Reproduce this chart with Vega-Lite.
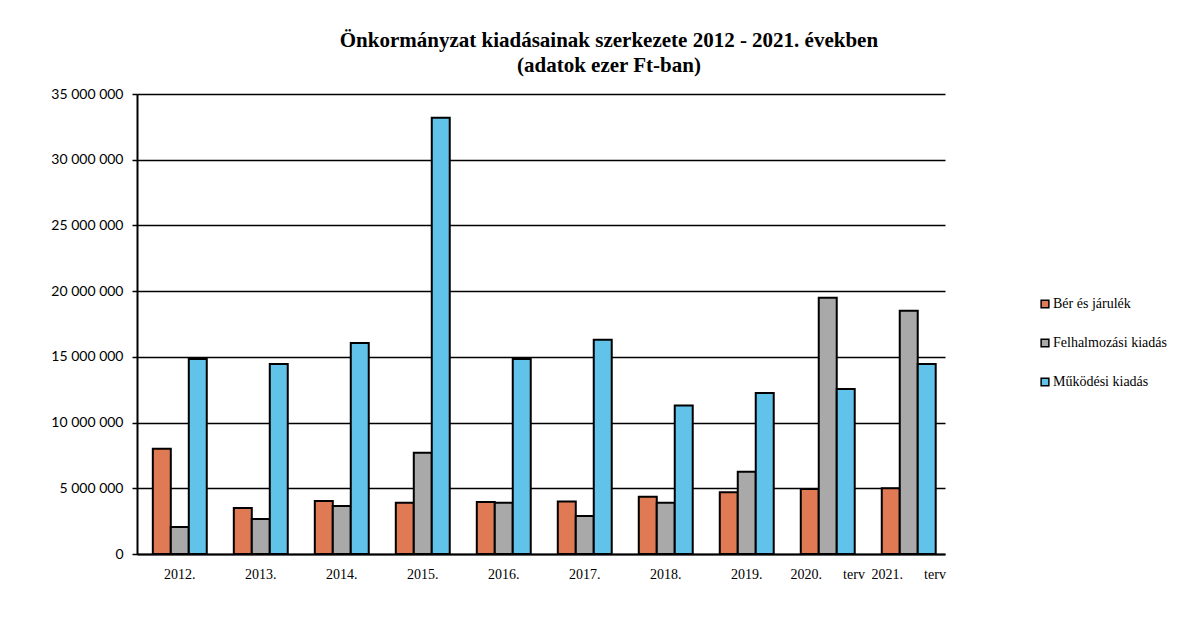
{
  "$schema": "https://vega.github.io/schema/vega-lite/v6.json",
  "width": 808,
  "height": 460,
  "autosize": {"type": "pad"},
  "padding": {"left": 50, "top": 30, "right": 10, "bottom": 10},
  "background": "white",
  "title": {
    "text": ["Önkormányzat kiadásainak szerkezete 2012 - 2021. években", "(adatok ezer Ft-ban)"],
    "font": "Liberation Serif",
    "fontSize": 21,
    "fontWeight": "bold",
    "color": "black",
    "anchor": "middle",
    "frame": "bounds",
    "lineHeight": 25,
    "offset": 11
  },
  "data": {
    "values": [
      {"ev": "2012.", "tipus": "Bér és járulék", "ertek": 8000000},
      {"ev": "2012.", "tipus": "Felhalmozási kiadás", "ertek": 2050000},
      {"ev": "2012.", "tipus": "Működési kiadás", "ertek": 14840000},
      {"ev": "2013.", "tipus": "Bér és járulék", "ertek": 3500000},
      {"ev": "2013.", "tipus": "Felhalmozási kiadás", "ertek": 2660000},
      {"ev": "2013.", "tipus": "Működési kiadás", "ertek": 14460000},
      {"ev": "2014.", "tipus": "Bér és járulék", "ertek": 4030000},
      {"ev": "2014.", "tipus": "Felhalmozási kiadás", "ertek": 3650000},
      {"ev": "2014.", "tipus": "Működési kiadás", "ertek": 16060000},
      {"ev": "2015.", "tipus": "Bér és járulék", "ertek": 3900000},
      {"ev": "2015.", "tipus": "Felhalmozási kiadás", "ertek": 7700000},
      {"ev": "2015.", "tipus": "Működési kiadás", "ertek": 33200000},
      {"ev": "2016.", "tipus": "Bér és járulék", "ertek": 3960000},
      {"ev": "2016.", "tipus": "Felhalmozási kiadás", "ertek": 3900000},
      {"ev": "2016.", "tipus": "Működési kiadás", "ertek": 14840000},
      {"ev": "2017.", "tipus": "Bér és járulék", "ertek": 4000000},
      {"ev": "2017.", "tipus": "Felhalmozási kiadás", "ertek": 2900000},
      {"ev": "2017.", "tipus": "Működési kiadás", "ertek": 16300000},
      {"ev": "2018.", "tipus": "Bér és járulék", "ertek": 4350000},
      {"ev": "2018.", "tipus": "Felhalmozási kiadás", "ertek": 3900000},
      {"ev": "2018.", "tipus": "Működési kiadás", "ertek": 11300000},
      {"ev": "2019.", "tipus": "Bér és járulék", "ertek": 4700000},
      {"ev": "2019.", "tipus": "Felhalmozási kiadás", "ertek": 6250000},
      {"ev": "2019.", "tipus": "Működési kiadás", "ertek": 12250000},
      {"ev": "2020.\u00a0\u00a0\u00a0\u00a0\u00a0\u00a0terv", "tipus": "Bér és járulék", "ertek": 4950000},
      {"ev": "2020.\u00a0\u00a0\u00a0\u00a0\u00a0\u00a0terv", "tipus": "Felhalmozási kiadás", "ertek": 19500000},
      {"ev": "2020.\u00a0\u00a0\u00a0\u00a0\u00a0\u00a0terv", "tipus": "Működési kiadás", "ertek": 12550000},
      {"ev": "2021.\u00a0\u00a0\u00a0\u00a0\u00a0\u00a0terv", "tipus": "Bér és járulék", "ertek": 5000000},
      {"ev": "2021.\u00a0\u00a0\u00a0\u00a0\u00a0\u00a0terv", "tipus": "Felhalmozási kiadás", "ertek": 18500000},
      {"ev": "2021.\u00a0\u00a0\u00a0\u00a0\u00a0\u00a0terv", "tipus": "Működési kiadás", "ertek": 14460000}
    ]
  },
  "mark": {"type": "bar", "stroke": "black", "strokeWidth": 2},
  "encoding": {
    "x": {
      "field": "ev",
      "type": "nominal",
      "sort": null,
      "scale": {"paddingInner": 0.334, "paddingOuter": 0.155, "align": 0.63},
      "axis": {
        "title": null,
        "labelAngle": 0,
        "ticks": false,
        "labelFont": "Liberation Serif",
        "labelFontSize": 14,
        "labelColor": "black",
        "labelPadding": 13,
        "labelLimit": 300,
        "domainColor": "black",
        "domainWidth": 2
      }
    },
    "xOffset": {
      "field": "tipus",
      "type": "nominal",
      "sort": ["Bér és járulék", "Felhalmozási kiadás", "Működési kiadás"],
      "scale": {"paddingInner": 0, "paddingOuter": 0}
    },
    "y": {
      "field": "ertek",
      "type": "quantitative",
      "scale": {"domain": [0, 35000000], "nice": false},
      "axis": {
        "title": null,
        "values": [0, 5000000, 10000000, 15000000, 20000000, 25000000, 30000000, 35000000],
        "format": ",d",
        "labelFont": "Lato",
        "labelFontSize": 14,
        "labelColor": "black",
        "labelPadding": 9,
        "tickSize": 5,
        "tickColor": "black",
        "tickWidth": 1.5,
        "domainColor": "black",
        "domainWidth": 2,
        "gridColor": "black",
        "gridWidth": 1.5
      }
    },
    "color": {
      "field": "tipus",
      "type": "nominal",
      "scale": {
        "domain": ["Bér és járulék", "Felhalmozási kiadás", "Működési kiadás"],
        "range": ["#e07a55", "#a9a9a9", "#62c3ea"]
      },
      "legend": {
        "title": null,
        "orient": "none",
        "legendX": 901,
        "legendY": 203,
        "symbolType": "square",
        "symbolSize": 60,
        "symbolStrokeColor": "black",
        "symbolStrokeWidth": 1.5,
        "labelFont": "Liberation Serif",
        "labelFontSize": 14,
        "labelColor": "black",
        "labelOffset": 1,
        "rowPadding": 25
      }
    }
  },
  "config": {
    "locale": {
      "number": {"decimal": ",", "thousands": " ", "grouping": [3], "currency": ["", " Ft"]}
    },
    "view": {"stroke": null}
  }
}
